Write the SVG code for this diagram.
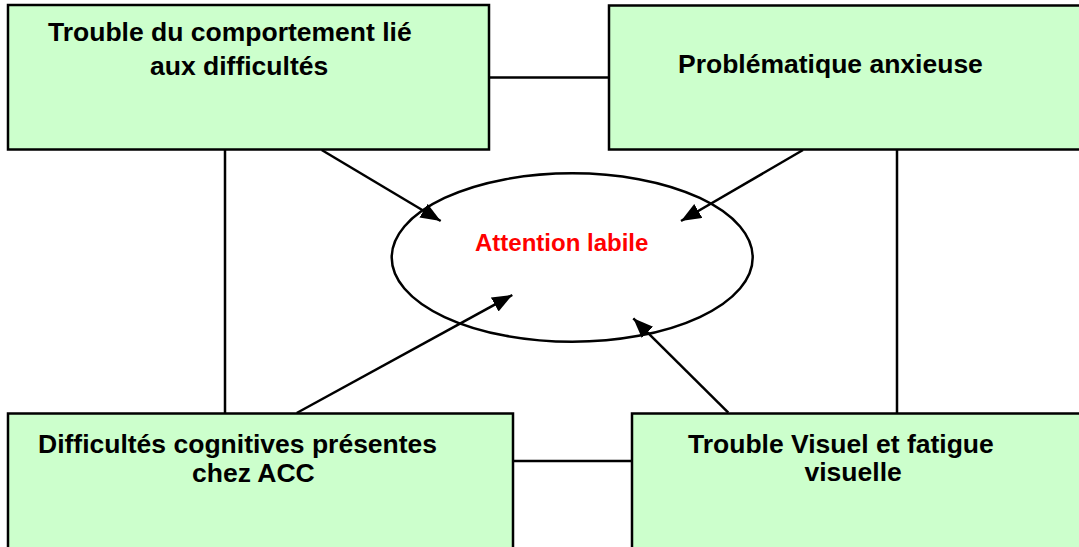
<svg xmlns="http://www.w3.org/2000/svg" width="1079" height="547" viewBox="0 0 1079 547">
<style>
.box{fill:#CCFFCC;stroke:#000;stroke-width:2.5}
.lbl{font-family:"Liberation Sans",Arial,sans-serif;font-weight:bold;font-size:26.5px;fill:#000}
.red{font-family:"Liberation Sans",Arial,sans-serif;font-weight:bold;font-size:24px;fill:#FF0000}
.ln{stroke:#000;stroke-width:2.5;fill:none}
</style>
<defs>
<marker id="ah" markerUnits="userSpaceOnUse" markerWidth="22" markerHeight="18" refX="20" refY="8" orient="auto">
<path d="M0,0 L20,8 L0,16 z" fill="#000"/>
</marker>
</defs>
<rect width="1079" height="547" fill="#fff"/>
<g id="node-center">
<ellipse cx="572.2" cy="257.5" rx="180.5" ry="84.2" fill="#fff" stroke="#000" stroke-width="2.5"/>
<text class="red" x="475" y="251">Attention labile</text>
</g>
<g id="connectors">
<line class="ln" x1="489" y1="77.5" x2="609" y2="77.5"/>
<line class="ln" x1="513" y1="461" x2="632" y2="461"/>
<line class="ln" x1="225" y1="150" x2="225" y2="413.5"/>
<line class="ln" x1="897" y1="150" x2="897" y2="413.5"/>
<line class="ln" x1="321.7" y1="150" x2="440.7" y2="221" marker-end="url(#ah)"/>
<line class="ln" x1="803" y1="150" x2="681" y2="221" marker-end="url(#ah)"/>
<line class="ln" x1="296.7" y1="413" x2="512.3" y2="295" marker-end="url(#ah)"/>
<line class="ln" x1="728.3" y1="412.7" x2="633.3" y2="318.3" marker-end="url(#ah)"/>
</g>
<g id="node-tl">
<rect class="box" x="8" y="5" width="481" height="144.5"/>
<text class="lbl" x="48" y="41">Trouble du comportement lié</text>
<text class="lbl" x="150" y="75">aux difficultés</text>
</g>
<g id="node-tr">
<rect class="box" x="609" y="5.5" width="490" height="144"/>
<text class="lbl" x="678" y="73">Problématique anxieuse</text>
</g>
<g id="node-bl">
<rect class="box" x="8" y="413.5" width="505" height="150"/>
<text class="lbl" x="38" y="453">Difficultés cognitives présentes</text>
<text class="lbl" x="192" y="482">chez ACC</text>
</g>
<g id="node-br">
<rect class="box" x="632" y="413.5" width="470" height="150"/>
<text class="lbl" x="688" y="453">Trouble Visuel et fatigue</text>
<text class="lbl" x="804.5" y="481">visuelle</text>
</g>
</svg>
